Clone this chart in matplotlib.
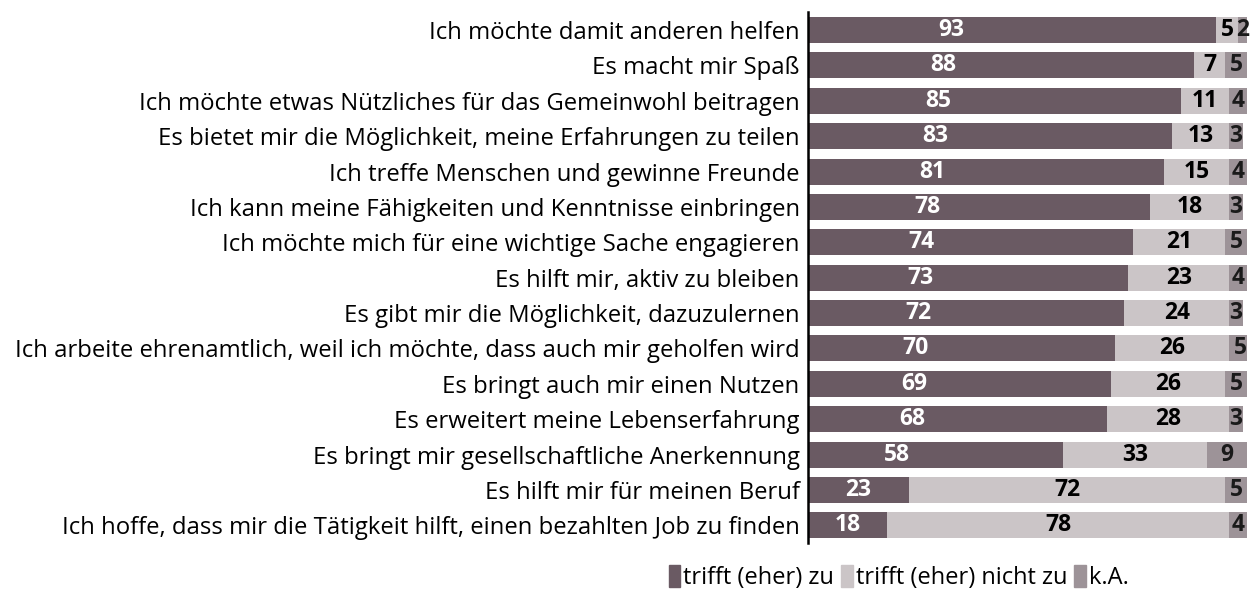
import numpy as np
import matplotlib.pyplot as plt
from matplotlib.patches import Patch

plt.rcParams['font.family'] = ['Open Sans', 'DejaVu Sans']

categories = [
    "Ich möchte damit anderen helfen",
    "Es macht mir Spaß",
    "Ich möchte etwas Nützliches für das Gemeinwohl beitragen",
    "Es bietet mir die Möglichkeit, meine Erfahrungen zu teilen",
    "Ich treffe Menschen und gewinne Freunde",
    "Ich kann meine Fähigkeiten und Kenntnisse einbringen",
    "Ich möchte mich für eine wichtige Sache engagieren",
    "Es hilft mir, aktiv zu bleiben",
    "Es gibt mir die Möglichkeit, dazuzulernen",
    "Ich arbeite ehrenamtlich, weil ich möchte, dass auch mir geholfen wird",
    "Es bringt auch mir einen Nutzen",
    "Es erweitert meine Lebenserfahrung",
    "Es bringt mir gesellschaftliche Anerkennung",
    "Es hilft mir für meinen Beruf",
    "Ich hoffe, dass mir die Tätigkeit hilft, einen bezahlten Job zu finden",
]
zu = [93, 88, 85, 83, 81, 78, 74, 73, 72, 70, 69, 68, 58, 23, 18]
nicht_zu = [5, 7, 11, 13, 15, 18, 21, 23, 24, 26, 26, 28, 33, 72, 78]
ka = [2, 5, 4, 3, 4, 3, 5, 4, 3, 5, 5, 3, 9, 5, 4]
series_names = ["trifft (eher) zu", "trifft (eher) nicht zu", "k.A."]

colors = ["#6a5a63", "#cbc5c7", "#9d9398"]

fig = plt.figure(figsize=(12.5, 5.92), dpi=100)
ax = fig.add_axes([0.6464, 0.0828, 0.3512, 0.8962])

y = np.arange(len(categories))
zu = np.array(zu)
nicht_zu = np.array(nicht_zu)
ka = np.array(ka)
h = 0.735
ax.barh(y, zu, height=h, color=colors[0])
ax.barh(y, nicht_zu, left=zu, height=h, color=colors[1])
ax.barh(y, ka, left=zu + nicht_zu, height=h, color=colors[2])

for i in range(len(y)):
    # dark segment labels sit left of centre
    xz = zu[i] * 0.5 if zu[i] < 30 else zu[i] * 0.35
    ax.text(xz, y[i], str(zu[i]), ha='center', va='center', color='white',
            fontsize=16.5, fontweight='bold')
    ax.text(zu[i] + nicht_zu[i] / 2, y[i], str(nicht_zu[i]), ha='center',
            va='center', color='black', fontsize=16.5, fontweight='bold')
    ax.text(zu[i] + nicht_zu[i] + ka[i] / 2, y[i], str(ka[i]), ha='center',
            va='center', color='#1a1a1a', fontsize=16.5, fontweight='bold')

ax.set_xlim(0, 100)
ax.set_ylim(len(y) - 0.5, -0.5)
ax.set_yticks(y)
ax.set_yticklabels(categories, fontsize=17.2)
ax.tick_params(axis='y', length=0, pad=6)
ax.set_xticks([])
for s in ['top', 'right', 'bottom']:
    ax.spines[s].set_visible(False)
ax.spines['left'].set_linewidth(1.8)

handles = [Patch(color=c, label=n) for c, n in zip(colors, series_names)]
fig.legend(handles=handles, loc='center', bbox_to_anchor=(0.719, 0.025),
           ncol=3, frameon=False, fontsize=17, handlelength=0.5,
           handleheight=1.1, handletextpad=0.12, columnspacing=0.3)

fig.savefig("out.png", dpi=100)
